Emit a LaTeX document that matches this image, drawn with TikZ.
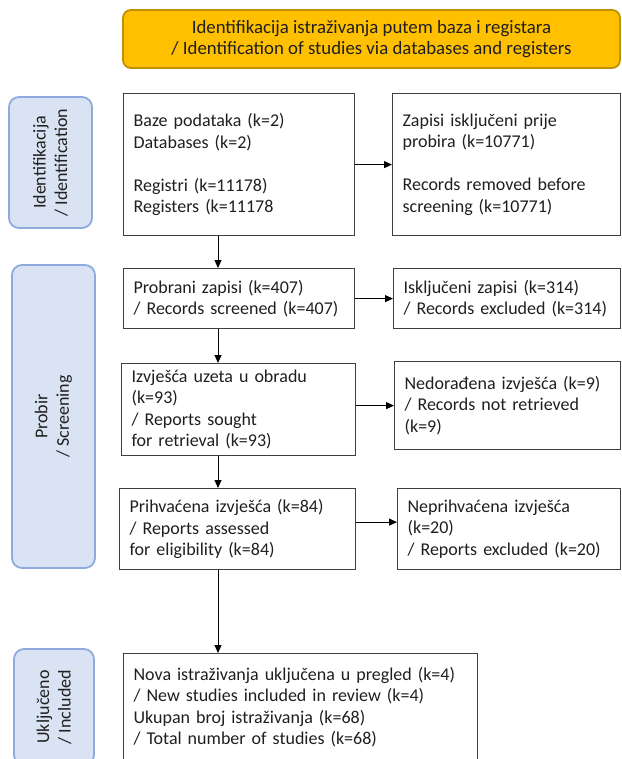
\documentclass[tikz,border=0pt]{standalone}
\usepackage{fontspec}
\setmainfont{Carlito}
\usetikzlibrary{positioning, arrows.meta}

\definecolor{bannerfill}{HTML}{FFC000}
\definecolor{bannerline}{HTML}{BF9000}
\definecolor{phasefill}{HTML}{DAE3F3}
\definecolor{phaseline}{HTML}{8FAADC}
\definecolor{boxline}{HTML}{3F3F3F}
\definecolor{ink}{HTML}{1F1F1F}

\newcommand{\boxfont}{\fontsize{18}{21.5}\selectfont}
\newcommand{\bannerfont}{\fontsize{18.8}{20.5}\selectfont}

\begin{document}
\begin{tikzpicture}[x=1pt,y=-1pt,>={Triangle[length=8pt,width=7pt]},line width=1pt,
	every edge/.style={draw, ->},
	box/.style={draw=boxline, line width=1.2pt, align=left, anchor=north west, inner xsep=10pt, inner ysep=0pt, text=ink, font=\boxfont},
	phase/.style={draw=phaseline, fill=phasefill, line width=1.8pt, rounded corners=10pt, rotate=90, align=center, inner sep=0pt, text=ink, font=\boxfont},
	banner/.style={draw=bannerline, fill=bannerfill, line width=1.8pt, rounded corners=8pt, align=center, inner sep=0pt, text=ink, font=\bannerfont}]
		\useasboundingbox (0,0) rectangle (621,759);

		\node[banner, minimum width=497pt, minimum height=58pt			] (title) 		at (371.5,39)	{Identifikacija istraživanja putem baza i registara\\/ Identification of studies via databases and registers};

		\node[phase, minimum width=131pt, minimum height=83pt			] (IDENT) 		at (50.5,162.5)	{Identifikacija\\/ Identification};
		\node[phase, minimum width=303pt, minimum height=83pt			] (SCREEN) 		at (53.5,416.5)	{Probir\\/ Screening};
		\node[phase, minimum width=116pt, minimum height=80pt			] (INCL) 		at (54,707)		{Uključeno\\/ Included};

		\node[box, text width=211pt, minimum height=142pt				] (DB) 			at (123,93)		{Baze podataka (k=2)\\Databases (k=2)\\[21.5pt]Registri (k=11178)\\Registers (k=11178};
		\node[box, text width=208pt, minimum height=142pt				] (REMOVED) 	at (392,93)		{Zapisi isključeni prije\\probira (k=10771)\\[21.5pt]Records removed before\\screening (k=10771)};
		\node[box, text width=211pt, minimum height=60pt				] (SCREENED) 	at (123,268)	{Probrani zapisi (k=407)\\/ Records screened (k=407)};
		\node[box, text width=207pt, minimum height=60pt				] (EXCLUDED) 	at (393,268)	{Isključeni zapisi (k=314)\\/ Records excluded (k=314)};
		\node[box, text width=214pt, minimum height=92pt				] (SOUGHT) 		at (121,363)	{Izvješća uzeta u obradu\\(k=93)\\/ Reports sought\\for retrieval (k=93)};
		\node[box, text width=206pt, minimum height=88pt				] (NOT_RETR) 	at (394,361)	{Nedorađena izvješća (k=9)\\/ Records not retrieved\\(k=9)};
		\node[box, text width=216pt, minimum height=81pt				] (ASSESSED) 	at (119,488)	{Prihvaćena izvješća (k=84)\\/ Reports assessed\\for eligibility (k=84)};
		\node[box, text width=203pt, minimum height=81pt				] (REJECTED) 	at (397,488)	{Neprihvaćena izvješća\\(k=20)\\/ Reports excluded (k=20)};
		\node[box, text width=334pt, minimum height=107pt				] (STUDIES) 	at (123,653)	{Nova istraživanja uključena u pregled (k=4)\\/ New studies included in review (k=4)\\Ukupan broj istraživanja (k=68)\\/ Total number of studies (k=68)};

		\coordinate (SPINE) at (218,0);

		\draw	(DB)						edge	(REMOVED)
				(SCREENED)					edge	(EXCLUDED)
				(SOUGHT.east |- NOT_RETR)	edge	(NOT_RETR)
				([yshift=7pt]ASSESSED.east)	edge	([yshift=7pt]REJECTED.west)

				(DB.south -| SPINE)			edge	(SCREENED.north -| SPINE)
				(SCREENED.south -| SPINE)	edge	(SOUGHT.north -| SPINE)
				(SOUGHT.south -| SPINE)		edge	(ASSESSED.north -| SPINE)
				(ASSESSED.south -| SPINE)	edge	(STUDIES.north -| SPINE)
				;

\end{tikzpicture}
\end{document}
